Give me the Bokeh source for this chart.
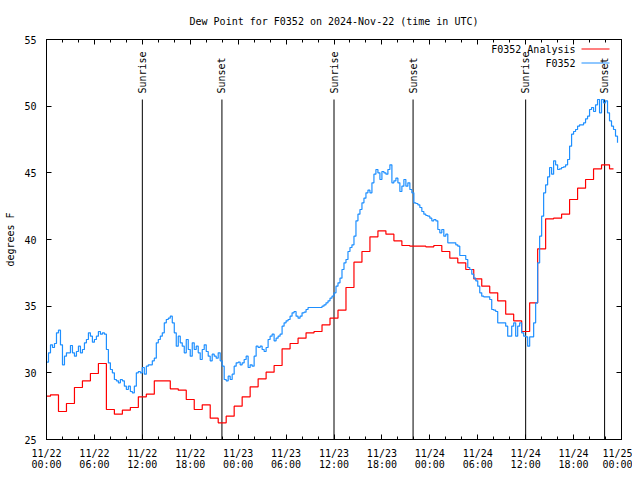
import math
from datetime import datetime, timedelta
import pandas as pd
from bokeh.plotting import figure
from bokeh.models import (Range1d, FixedTicker, DatetimeTickFormatter, DatetimeAxis,
                          LinearAxis, Title, ColumnDataSource)
from bokeh.core.properties import value
from bokeh.embed import file_html
from bokeh.resources import INLINE

FONT = "DejaVu Sans Mono"

start_time = datetime(2024, 11, 22, 0, 0)
end_time = datetime(2024, 11, 25, 0, 0)

# hourly analysis values (F0352 Analysis), starting 2024-11-22 00:00 UTC
analysis_dewpt = [
    28.25, 28.35, 27.1, 27.7, 28.9, 29.4, 29.95, 30.7, 27.25, 26.9, 27.2, 27.4,
    28.2, 28.4, 29.4, 29.4, 28.8, 28.7, 28.0, 27.25, 27.6, 26.6, 26.25, 26.75,
    27.5, 28.2, 28.95, 29.55, 30.05, 30.55, 31.8, 32.2, 32.6, 33.0, 33.1, 33.6,
    34.1, 34.7, 36.4, 38.3, 39.1, 40.2, 40.65, 40.4, 39.9, 39.55, 39.5, 39.5,
    39.45, 39.55, 39.1, 38.6, 38.25, 37.75, 37.05, 36.5, 36.0, 35.4, 34.4, 33.9,
    33.1, 35.25, 39.3, 41.55, 41.6, 41.9, 43.0, 43.85, 44.5, 45.3, 45.6, 45.3,
]

# station observations (F0352), every 15 minutes from 2024-11-22 00:00 UTC
obs_dewpt = [
    30.8, 31.5, 32.1, 31.9, 32.2, 33.0, 33.2, 32.1, 30.6, 31.25, 31.5, 31.5,
    32.05, 31.5, 31.25, 31.6, 32.0, 31.5, 31.75, 32.25, 32.5, 33.0, 32.75, 32.3,
    32.5, 32.75, 33.1, 32.9, 33.0, 32.9, 31.75, 30.75, 30.25, 30.0, 29.5, 29.4,
    29.25, 29.5, 29.4, 29.0, 28.75, 29.0, 28.6, 28.5, 29.0, 30.0, 30.1, 30.0,
    30.4, 29.9, 30.5, 30.6, 30.6, 30.9, 31.1, 32.25, 32.5, 32.75, 33.0, 33.75,
    34.0, 34.1, 34.25, 33.75, 33.0, 32.0, 32.75, 32.25, 32.0, 31.5, 32.5, 31.75,
    31.25, 32.25, 31.75, 32.0, 31.5, 31.0, 31.75, 32.1, 31.6, 31.25, 30.9, 31.4,
    31.25, 31.1, 31.5, 30.9, 30.5, 29.5, 29.4, 29.75, 29.5, 29.9, 30.5, 30.75,
    30.8, 30.6, 30.75, 31.0, 31.25, 30.4, 30.6, 30.5, 31.25, 32.0, 31.9, 32.0,
    31.75, 31.6, 31.9, 32.5, 32.75, 32.9, 32.4, 32.6, 32.75, 32.9, 33.5, 33.75,
    33.9, 34.0, 34.25, 34.5, 34.6, 34.25, 34.1, 34.25, 34.5, 34.55, 34.75, 34.9,
    34.9, 34.9, 34.9, 34.9, 34.9, 34.9, 35.0, 35.1, 35.25, 35.4, 35.6, 35.75,
    36.0, 36.5, 36.75, 37.1, 37.75, 38.25, 38.5, 39.1, 39.4, 39.6, 40.25, 41.4,
    41.9, 42.25, 42.75, 43.1, 43.5, 43.7, 43.5, 44.25, 44.9, 45.25, 45.0, 44.5,
    45.1, 45.0, 44.9, 45.25, 45.6, 44.25, 44.4, 44.6, 44.25, 43.6, 44.0, 44.5,
    44.0, 44.25, 43.75, 43.5, 42.75, 42.7, 42.6, 42.4, 42.1, 41.9, 41.8, 41.75,
    41.6, 41.4, 41.5, 41.4, 40.75, 40.5, 40.75, 40.25, 40.4, 39.75, 39.75, 39.75,
    39.75, 39.6, 39.5, 38.8, 38.8, 38.8, 38.5, 37.9, 37.75, 37.4, 37.1, 36.9,
    36.5, 36.0, 35.75, 35.7, 35.7, 35.7, 35.5, 34.75, 34.7, 34.6, 33.75, 33.75,
    33.75, 33.75, 33.5, 32.75, 32.75, 33.5, 33.75, 32.75, 33.5, 33.75, 33.0, 32.75,
    32.7, 32.0, 32.7, 32.7, 33.75, 35.25, 38.25, 40.25, 41.75, 43.5, 44.1, 44.7,
    45.4, 44.9, 45.9, 45.6, 45.25, 45.3, 45.4, 45.45, 45.6, 46.0, 47.0, 47.9,
    48.1, 48.25, 48.5, 48.6, 48.6, 48.75, 49.05, 49.25, 49.75, 49.9, 49.6, 50.1,
    50.5, 49.5, 50.5, 50.25, 50.4, 49.5, 48.9, 48.5, 48.25, 47.75, 47.25,
]

sun_event_times = ["2024-11-22 12:00", "2024-11-22 21:58", "2024-11-23 12:00",
                   "2024-11-23 21:54", "2024-11-24 12:00", "2024-11-24 21:53"]
sun_event_names = ["Sunrise", "Sunset", "Sunrise", "Sunset", "Sunrise", "Sunset"]

series_names = ["F0352 Analysis", "F0352"]

y_min, y_max = 25, 55
y_ticks = [25, 30, 35, 40, 45, 50, 55]

analysis_times = pd.date_range(start_time, periods=len(analysis_dewpt), freq="1h")
obs_times = pd.date_range(start_time, periods=len(obs_dewpt), freq="15min")
sun_times = pd.to_datetime(sun_event_times)

def ms(t):
    return pd.Timestamp(t).value / 1e6

major_x = [ms(t) for t in pd.date_range(start_time, end_time, freq="6h")]
minor_x = [ms(t) for t in pd.date_range(start_time, end_time, freq="2h")]

FW, FH = 575, 400
p = figure(frame_width=FW, frame_height=FH, x_axis_type="datetime",
           x_range=Range1d(start_time, end_time), y_range=Range1d(y_min, y_max),
           output_backend="svg", toolbar_location=None, title=None,
           min_border_left=46, min_border_right=11, min_border_top=39, min_border_bottom=33)
p.grid.visible = False
p.outline_line_color = "black"
p.outline_line_alpha = 1.0
p.background_fill_color = "white"
p.border_fill_color = "white"

fmt = "%m/%d\n%H:%M"
xfmt = DatetimeTickFormatter(milliseconds=fmt, seconds=fmt, minsec=fmt, minutes=fmt,
                             hourmin=fmt, hours=fmt, days=fmt, months=fmt, years=fmt)
xticker = FixedTicker(ticks=major_x, minor_ticks=minor_x)
yticker = FixedTicker(ticks=y_ticks)

def style_axis(ax, labels=True):
    ax.axis_line_color = "black"
    ax.major_tick_line_color = "black"
    ax.minor_tick_line_color = "black"
    ax.major_tick_in = 5
    ax.major_tick_out = 0
    ax.minor_tick_in = 3
    ax.minor_tick_out = 0
    ax.major_label_text_font = FONT
    ax.major_label_text_font_size = "10px"
    ax.major_label_text_color = "black"
    if not labels:
        ax.major_label_text_alpha = 0
        ax.major_label_text_font_size = "1px"
        ax.major_label_standoff = 0

xa = p.xaxis[0]
xa.ticker = xticker
xa.formatter = xfmt
style_axis(xa)
xa.major_label_standoff = 8
xa.major_label_text_line_height = 1.0

ya = p.yaxis[0]
ya.ticker = yticker
style_axis(ya)
ya.minor_tick_line_color = None
ya.major_label_standoff = 10
ya.axis_label = "degrees F"
ya.axis_label_text_font = FONT
ya.axis_label_text_font_size = "10px"
ya.axis_label_text_font_style = "normal"
ya.axis_label_text_color = "black"
ya.axis_label_standoff = 5

top_ax = DatetimeAxis(ticker=xticker, formatter=xfmt)
style_axis(top_ax, labels=False)
p.add_layout(top_ax, "above")
right_ax = LinearAxis(ticker=yticker)
style_axis(right_ax, labels=False)
right_ax.minor_tick_line_color = None
p.add_layout(right_ax, "right")

p.add_layout(Title(text="Dew Point for F0352 on 2024-Nov-22 (time in UTC)", align="center",
                   text_font=FONT, text_font_size="10px", text_font_style="normal",
                   text_color="black", standoff=26), "above")

red = "#ff0000"
blue = "#1e8fff"

# gnuplot-style key (text, then line sample) placed by frame pixel fractions
span_ms = (end_time - start_time)
def fx(px):
    return start_time + span_ms * (px / FW)
def fy(py_from_top):
    return y_max - (y_max - y_min) * (py_from_top / FH)

key_colors = [red, blue]
key_rows_px = [9.5, 23.5]
key_src = ColumnDataSource(dict(tx=[fx(529)] * 2, y=[fy(r) for r in key_rows_px],
                                name=series_names))
p.text(x="tx", y="y", text="name", source=key_src, text_align="right",
       text_baseline="middle", text_font=value(FONT), text_font_size="10px",
       text_color="black")
for col, r in zip(key_colors, key_rows_px):
    p.line([fx(535), fx(563)], [fy(r), fy(r)], line_color=col, line_width=1.2)

# sunrise / sunset markers
line_top = y_min + 0.85 * (y_max - y_min)
sun_src = ColumnDataSource(dict(x=sun_times, y0=[y_min] * len(sun_times),
                                y1=[line_top] * len(sun_times), name=sun_event_names))
p.segment(x0="x", y0="y0", x1="x", y1="y1", source=sun_src, line_color="black", line_width=1)
p.text(x="x", y="y1", text="name", source=sun_src, angle=math.pi / 2, y_offset=-6,
       text_align="left", text_baseline="middle", text_font=value(FONT),
       text_font_size="10px", text_color="black")

p.step(analysis_times, analysis_dewpt, mode="center", line_color=red, line_width=1.2)
p.step(obs_times, obs_dewpt, mode="after", line_color=blue, line_width=1.2)

open("out.html", "w").write(file_html(p, INLINE))
